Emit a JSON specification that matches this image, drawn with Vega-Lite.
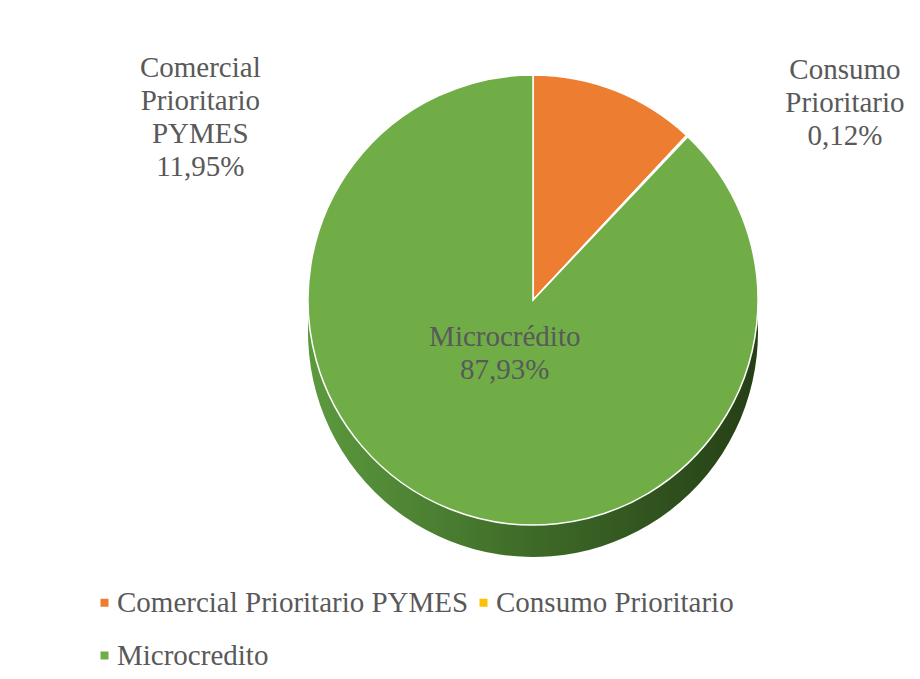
{
  "$schema": "https://vega.github.io/schema/vega-lite/v6.json",
  "autosize": {"type": "none"},
  "width": 774,
  "height": 450,
  "padding": {"left": 146, "top": 75, "right": 0, "bottom": 154},
  "background": "white",
  "config": {"view": {"stroke": null}, "font": "Liberation Serif"},
  "data": {
    "values": [
      {"category": "Comercial Prioritario PYMES", "value": 11.95, "label": "Comercial\nPrioritario\nPYMES\n11,95%"},
      {"category": "Consumo Prioritario", "value": 0.12, "label": "Consumo\nPrioritario\n0,12%"},
      {"category": "Microcredito", "value": 87.93, "label": "Microcrédito\n87,93%"}
    ]
  },
  "encoding": {
    "theta": {"field": "value", "type": "quantitative", "stack": true}
  },
  "layer": [
    {
      "mark": {
        "type": "arc",
        "outerRadius": 225,
        "yOffset": 32,
        "color": {
          "gradient": "linear",
          "x1": 0, "y1": 0, "x2": 1, "y2": 0,
          "stops": [
            {"offset": 0, "color": "#5c9a3e"},
            {"offset": 0.5, "color": "#3e6a28"},
            {"offset": 1, "color": "#253f16"}
          ]
        }
      },
      "encoding": {"detail": {"field": "category"}}
    },
    {
      "mark": {"type": "arc", "outerRadius": 225, "stroke": "white", "strokeWidth": 1.5},
      "encoding": {
        "color": {
          "field": "category",
          "type": "nominal",
          "scale": {
            "domain": ["Comercial Prioritario PYMES", "Consumo Prioritario", "Microcredito"],
            "range": ["#ED7D31", "#FFC000", "#70AD47"]
          },
          "legend": {
            "title": null,
            "orient": "none",
            "legendX": -56,
            "legendY": 513,
            "columns": 2,
            "direction": "horizontal",
            "symbolType": "square",
            "symbolSize": 64,
            "symbolStrokeWidth": 0,
            "labelFont": "Liberation Serif",
            "labelFontSize": 29,
            "labelColor": "#595959",
            "labelOffset": -2,
            "labelLimit": 0,
            "columnPadding": 0,
            "rowPadding": 23
          }
        }
      }
    },
    {
      "mark": {"type": "text", "radius": 200, "dx": -406, "dy": -46, "lineBreak": "\n", "lineHeight": 33, "fontSize": 29, "font": "Liberation Serif", "color": "#595959", "align": "center", "baseline": "middle"},
      "encoding": {
        "text": {"condition": {"test": "datum.category == 'Comercial Prioritario PYMES'", "field": "label"}, "value": ""},
        "detail": {"field": "category"}
      }
    },
    {
      "mark": {"type": "text", "radius": 270, "dx": 127, "dy": -33, "lineBreak": "\n", "lineHeight": 33, "fontSize": 29, "font": "Liberation Serif", "color": "#595959", "align": "center", "baseline": "middle"},
      "encoding": {
        "text": {"condition": {"test": "datum.category == 'Consumo Prioritario'", "field": "label"}, "value": ""},
        "detail": {"field": "category"}
      }
    },
    {
      "mark": {"type": "text", "radius": 60, "dx": -6, "dy": -19, "lineBreak": "\n", "lineHeight": 33, "fontSize": 29, "font": "Liberation Serif", "color": "#595959", "align": "center", "baseline": "middle"},
      "encoding": {
        "text": {"condition": {"test": "datum.category == 'Microcredito'", "field": "label"}, "value": ""},
        "detail": {"field": "category"}
      }
    }
  ]
}
